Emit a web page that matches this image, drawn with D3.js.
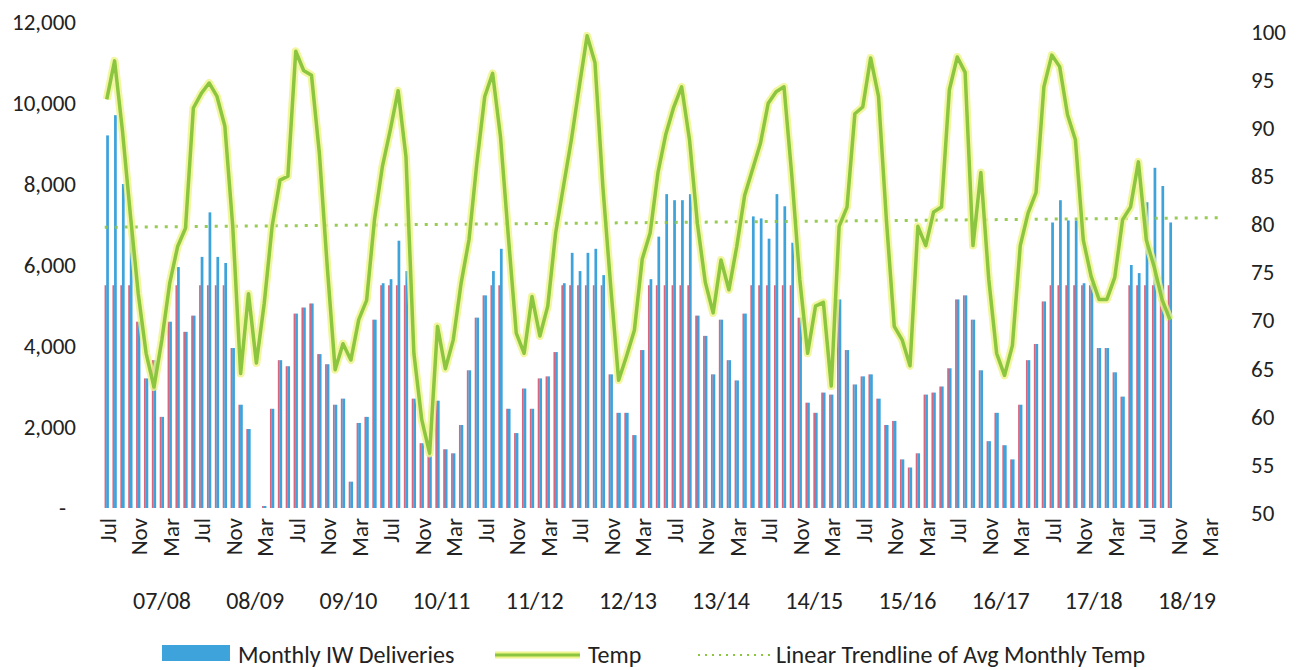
<!DOCTYPE html>
<html lang="en">
<head>
<meta charset="UTF-8">
<title>Monthly IW Deliveries vs Temp</title>
<style>
  * { margin: 0; padding: 0; }
  body { background: #fff; }
  svg text { font-family: Carlito, Calibri, Lato, "Open Sans", sans-serif; fill: #222; }
</style>
</head>
<body>
<div id="chart"></div>
<script src="https://cdn.jsdelivr.net/npm/d3@7"></script>
<script>
// Jul 2007 .. Oct 2018, one value per month
var deliveries = [9200,9700,8000,6900,4600,3200,3650,2250,4600,5950,
  4350,4750,6200,7300,6200,6050,3950,2550,1950,0,
  50,2450,3650,3500,4800,4950,5050,3800,3550,2550,
  2700,650,2100,2250,4650,5550,5650,6600,5850,2700,
  1600,1300,2650,1450,1350,2050,3400,4700,5250,5850,
  6400,2450,1850,2950,2450,3200,3250,3850,5550,6300,
  5850,6300,6400,5750,3300,2350,2350,1800,3900,5650,
  6700,7750,7600,7600,7750,4750,4250,3300,4650,3650,
  3150,4800,7200,7150,6650,7750,7450,6550,4700,2600,
  2350,2850,2800,5150,3900,3050,3250,3300,2700,2050,
  2150,1200,1000,1350,2800,2850,3000,3450,5150,5250,
  4650,3400,1650,2350,1550,1200,2550,3650,4050,5100,
  7050,7600,7100,7100,5550,5550,3950,3950,3350,2750,
  6000,5800,7550,8400,7950,7050]

var temps = [93,97,89.7,81,72.8,66.6,63.1,68,73.9,77.7,
  79.6,92.1,93.6,94.7,93.3,90.2,79.8,64.5,72.8,65.6,
  71.8,79.8,84.6,85,98,96,95.5,87.4,75.6,64.9,
  67.6,65.9,70.1,72.1,80.5,86,89.8,93.9,87,66.6,
  59.7,56.2,69.4,65,68,73.9,78.4,86.4,93.3,95.7,
  89.1,78.7,68.7,66.6,72.5,68.4,71.5,79.1,84,88.8,
  94.3,99.6,96.8,83.9,73.5,63.8,66.3,69,76.4,79.1,
  85.4,89.4,92.2,94.3,88.8,80.1,74,70.8,76.3,73.2,
  77.7,83,85.7,88.4,92.6,93.8,94.3,85,74.3,66.6,
  71.5,71.9,63.2,79.8,81.8,91.5,92.2,97.3,93.3,80.5,
  69.4,68,65.3,79.8,77.8,81.3,81.8,94,97.4,95.8,
  77.8,85.4,74.3,66.6,64.3,67.4,77.8,81.2,83.3,94.3,
  97.6,96.4,91.4,88.8,78.4,74.6,72.2,72.2,74.5,80.5,
  81.8,86.5,78.4,75.6,72.2,70.1]

// trendline end points [month index, temp]
var trend = [[0, 79.7], [140, 80.7]]

var monthNames = ['Jul','Aug','Sep','Oct','Nov','Dec','Jan','Feb','Mar','Apr','May','Jun']
var seasons = ['07/08','08/09','09/10','10/11','11/12','12/13','13/14','14/15','15/16','16/17','17/18','18/19']
var leftTicks = [0,2000,4000,6000,8000,10000,12000]
var rightTicks = [50,55,60,65,70,75,80,85,90,95,100]

var width = 1304, height = 670
var nMonths = 141   // Jul 07 .. Mar 19
var months = d3.range(nMonths)

var svg = d3.select('#chart').append('svg').attr('width', width).attr('height', height)

var x = d3.scaleBand().domain(months).range([103, 1213]).paddingInner(0.45).paddingOuter(0.2)
var yL = d3.scaleLinear().domain([0, 12000]).range([508, 22])
var yR = d3.scaleLinear().domain([50, 100]).range([513, 32])
var cx = function (i) { return x(i) + x.bandwidth() / 2 }
var seasonX = d3.scaleLinear().domain([0, seasons.length - 1]).range([162, 1187])

// bars: pink misprint stripe + blue bar
var pinkCap = 5500
var bars = svg.append('g').selectAll('g').data(deliveries).enter().append('g')
bars.append('rect')
  .attr('x', function (d, i) { return x(i) })
  .attr('width', 1.8)
  .attr('y', function (d) { return yL(Math.min(d, pinkCap)) })
  .attr('height', function (d) { return yL(0) - yL(Math.min(d, pinkCap)) })
  .attr('fill', '#d9667f')
bars.append('rect')
  .attr('x', function (d, i) { return x(i) + 1.6 })
  .attr('width', x.bandwidth() - 1.6)
  .attr('y', function (d) { return yL(d) })
  .attr('height', function (d) { return yL(0) - yL(d) })
  .attr('fill', '#3fa3db')

// trendline
svg.append('line')
  .attr('x1', cx(trend[0][0]) - 2).attr('y1', yR(trend[0][1]))
  .attr('x2', cx(trend[1][0]) + 14).attr('y2', yR(trend[1][1]))
  .attr('stroke', '#8cc63f').attr('stroke-width', 3)
  .attr('stroke-dasharray', '3,7').attr('opacity', 0.9)

// temp line with a yellow glow under it
var line = d3.line().x(function (d, i) { return cx(i) }).y(function (d) { return yR(d) })
svg.append('path').datum(temps).attr('d', line)
  .attr('fill', 'none').attr('stroke', '#eff48a').attr('stroke-width', 8)
  .attr('stroke-linejoin', 'round').attr('opacity', 0.8)
svg.append('path').datum(temps).attr('d', line)
  .attr('fill', 'none').attr('stroke', '#8cc540').attr('stroke-width', 3.5)
  .attr('stroke-linejoin', 'round')

// axes
var axL = svg.append('g').attr('transform', 'translate(76,0)')
  .call(d3.axisLeft(yL).tickValues(leftTicks).tickSize(0).tickPadding(0)
    .tickFormat(function (d) { return d === 0 ? '-' : d3.format(',')(d) }))
axL.select('.domain').remove()
axL.selectAll('text').style('font-size', '23px')
  .attr('dx', function (d) { return d === 0 ? -10 : 0 })

var axR = svg.append('g').attr('transform', 'translate(1251,0)')
  .call(d3.axisRight(yR).tickValues(rightTicks).tickSize(0).tickPadding(0))
axR.select('.domain').remove()
axR.selectAll('text').style('font-size', '23px')

var axB = svg.append('g').attr('transform', 'translate(0,508)')
  .call(d3.axisBottom(x).tickValues(months.filter(function (i) { return i % 4 === 0 }))
    .tickSize(0).tickFormat(function (i) { return monthNames[i % 12] }))
axB.select('.domain').remove()
axB.selectAll('text').style('font-size', '23px')
  .attr('transform', 'rotate(-90)')
  .attr('text-anchor', 'end')
  .attr('x', -10).attr('y', 0).attr('dy', '0.4em')

// season labels
svg.append('g').selectAll('text').data(seasons).enter().append('text')
  .attr('x', function (d, i) { return seasonX(i) })
  .attr('y', 609)
  .attr('text-anchor', 'middle')
  .style('font-size', '24px')
  .text(function (d) { return d })

// legend
var lg = svg.append('g')
lg.append('rect').attr('x', 162).attr('y', 645).attr('width', 68).attr('height', 16).attr('fill', '#3fa3db')
lg.append('text').attr('x', 238).attr('y', 663).style('font-size', '24px').text('Monthly IW Deliveries')
lg.append('line').attr('x1', 495).attr('x2', 580).attr('y1', 655).attr('y2', 655)
  .attr('stroke', '#eff48a').attr('stroke-width', 7)
lg.append('line').attr('x1', 495).attr('x2', 580).attr('y1', 655).attr('y2', 655)
  .attr('stroke', '#8cc540').attr('stroke-width', 3)
lg.append('text').attr('x', 588).attr('y', 663).style('font-size', '24px').text('Temp')
lg.append('line').attr('x1', 698).attr('x2', 770).attr('y1', 655).attr('y2', 655)
  .attr('stroke', '#8cc63f').attr('stroke-width', 2).attr('stroke-dasharray', '2,5')
lg.append('text').attr('x', 776).attr('y', 663).style('font-size', '24px').text('Linear Trendline of Avg Monthly Temp')
</script>
</body>
</html>
